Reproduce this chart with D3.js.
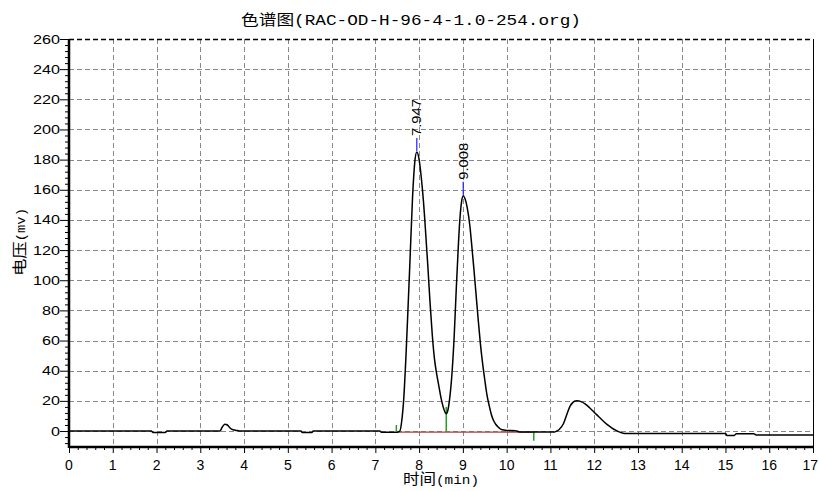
<!DOCTYPE html>
<html><head><meta charset="utf-8">
<script src="https://cdn.jsdelivr.net/npm/d3@7"></script>
<style>body{margin:0;background:#fff;}svg{display:block;}</style>
</head><body>
<script>
// ---- data ----
const times = [0, 1.88, 1.92, 2.2, 2.24, 3.45, 3.5, 3.56, 3.62, 3.68, 3.75, 3.85, 3.92, 5.3, 5.33, 5.55, 5.58, 7.1, 7.14, 7.5, 7.56, 7.6, 7.65, 7.7, 7.75, 7.79, 7.85, 7.9, 7.947, 8.0, 8.05, 8.1, 8.13, 8.2, 8.25, 8.3, 8.35, 8.4, 8.45, 8.5, 8.55, 8.6, 8.62, 8.65, 8.7, 8.74, 8.8, 8.85, 8.9, 8.93, 8.97, 9.008, 9.05, 9.1, 9.16, 9.2, 9.25, 9.3, 9.35, 9.4, 9.45, 9.5, 9.55, 9.6, 9.65, 9.7, 9.75, 9.8, 9.85, 9.9, 10.0, 10.2, 10.3, 11.1, 11.15, 11.2, 11.3, 11.4, 11.45, 11.5, 11.55, 11.6, 11.7, 11.8, 11.9, 12.0, 12.1, 12.2, 12.3, 12.4, 12.5, 12.6, 12.7, 15.0, 15.03, 15.2, 15.25, 15.65, 15.7, 17];
const signal = [0, 0, -1, -1, 0, 0, 2.5, 4.5, 4, 2, 0.8, 0.3, 0, 0, -1, -1, 0, 0, -0.8, -0.8, 0, 6, 22, 50, 84, 112, 155, 178, 185, 180, 168, 152, 140, 109, 85, 64, 48, 38, 30, 22, 16, 12, 11.5, 13, 22, 34, 62, 95, 125, 140, 152, 156, 154, 148, 136, 124, 108, 91, 74, 58, 45, 34, 24, 17, 11, 7, 4.5, 2.8, 1.5, 0.8, 0.4, 0.2, -0.6, -0.6, 0, 1, 5, 13, 16.5, 18.5, 19.7, 20, 19.5, 17.8, 15.3, 12.5, 9.6, 6.8, 4.2, 2.1, 0.4, -0.9, -1.6, -1.6, -2.9, -2.9, -1.8, -1.8, -2.6, -2.6];
const peakTimes = [7.947, 9.008];
const peakHeights = [185, 156];
const peakLabels = ["7.947", "9.008"];
const markerTimes = [7.48, 8.62, 10.62];
const markerFrom = [0, 16, 0];
const markerTo = [4, 0, -6.5];
const baselineStart = [7.48, -0.7];
const baselineEnd = [10.62, -0.7];
const xTicks = d3.range(0, 18, 1);
const yTicks = d3.range(0, 261, 20);
const titleText = "色谱图(RAC-OD-H-96-4-1.0-254.org)";
const xTitle = "时间(min)";
const yTitleMain = "电压";
const yTitleUnit = "(mv)";

// ---- layout ----
const W = 819, H = 491;
const svg = d3.select("body").append("svg").attr("width", W).attr("height", H);
const x = d3.scaleLinear().domain([0, 17]).range([69, 813]);
const y = d3.scaleLinear().domain([-10.6, 260]).range([447, 39]);
const x0 = x.range()[0], x1 = x.range()[1], yb = y.range()[0], yt = y.range()[1];

// grid
const grid = svg.append("g").attr("stroke", "#888").attr("stroke-width", 1).attr("stroke-dasharray", "5,3");
xTicks.filter(t => t > 0 && t < 17).forEach(t => {
  grid.append("line").attr("x1", Math.round(x(t)) + 0.5).attr("x2", Math.round(x(t)) + 0.5).attr("y1", yt).attr("y2", yb);
});
yTicks.filter(t => t < 260).forEach(t => {
  grid.append("line").attr("x1", x0).attr("x2", x1).attr("y1", Math.round(y(t)) + 0.5).attr("y2", Math.round(y(t)) + 0.5);
});

// frame: top dashed, right solid
svg.append("line").attr("x1", x0).attr("x2", x1).attr("y1", yt + 0.5).attr("y2", yt + 0.5)
  .attr("stroke", "#000").attr("stroke-width", 1.5).attr("stroke-dasharray", "5,3");
svg.append("line").attr("x1", x1 + 0.5).attr("x2", x1 + 0.5).attr("y1", yt).attr("y2", yb)
  .attr("stroke", "#000").attr("stroke-width", 1);

// axes
const yAxis = d3.axisLeft(y).tickValues(yTicks).tickSize(9).tickFormat("");
const yMinor = d3.axisLeft(y).tickValues(d3.range(-8, 260, 4).filter(v => v % 20 !== 0)).tickSize(4).tickFormat("");
const xAxis = d3.axisBottom(x).tickValues(xTicks).tickSize(6).tickFormat("");
const xMinor = d3.axisBottom(x).tickValues(d3.range(0, 17.01, 0.2).filter(v => Math.abs(v - Math.round(v)) > 0.01)).tickSize(3).tickFormat("");

[yAxis, yMinor].forEach(a => {
  const g = svg.append("g").attr("transform", `translate(${x0},0)`).call(a);
  g.select(".domain").remove();
  g.selectAll("line").attr("stroke", "#000");
});
[xAxis, xMinor].forEach(a => {
  const g = svg.append("g").attr("transform", `translate(0,${yb})`).call(a);
  g.select(".domain").remove();
  g.selectAll("line").attr("stroke", "#000");
});
svg.append("line").attr("x1", x0).attr("x2", x0).attr("y1", yt).attr("y2", yb + 1)
  .attr("stroke", "#000").attr("stroke-width", 2.5);
svg.append("line").attr("x1", x0).attr("x2", x1 + 1).attr("y1", yb).attr("y2", yb)
  .attr("stroke", "#000").attr("stroke-width", 2.5);

// tick labels
svg.append("g").selectAll("text").data(yTicks).join("text")
  .attr("x", 60).attr("y", d => y(d)).attr("dy", "0.36em")
  .attr("text-anchor", "end")
  .attr("font-family", "Liberation Sans, Arial, sans-serif").attr("font-size", 12.5)
  .attr("textLength", d => String(d).length * 9).attr("lengthAdjust", "spacingAndGlyphs")
  .attr("fill", "#000").text(d => d);
svg.append("g").selectAll("text").data(xTicks).join("text")
  .attr("x", d => d === 17 ? 818 : x(d)).attr("y", 470)
  .attr("text-anchor", d => d === 17 ? "end" : "middle")
  .attr("font-family", "Liberation Sans, Arial, sans-serif").attr("font-size", 14)
  .attr("fill", "#000").text(d => d);

// titles
svg.append("text").attr("x", 241).attr("y", 25)
  .attr("font-family", "Liberation Mono, Noto Sans CJK SC, monospace").attr("font-size", 15)
  .attr("textLength", 340).attr("lengthAdjust", "spacingAndGlyphs")
  .attr("fill", "#000").text(titleText);
const xt = svg.append("text").attr("x", 403).attr("y", 484)
  .attr("font-family", "Liberation Mono, Noto Sans CJK SC, monospace")
  .attr("textLength", 76).attr("lengthAdjust", "spacingAndGlyphs")
  .attr("fill", "#000");
xt.append("tspan").attr("font-size", 15).text(xTitle.slice(0, 2));
xt.append("tspan").attr("font-size", 13).text(xTitle.slice(2));
const yt2 = svg.append("text").attr("transform", "translate(25,276) rotate(-90)")
  .attr("font-family", "Liberation Mono, Noto Sans CJK SC, monospace").attr("fill", "#000")
  .attr("textLength", 68).attr("lengthAdjust", "spacingAndGlyphs");
yt2.append("tspan").attr("font-size", 15).text(yTitleMain);
yt2.append("tspan").attr("font-size", 12).text(yTitleUnit);

// baseline (red) and markers (green)
svg.append("line").attr("x1", x(baselineStart[0])).attr("x2", x(baselineEnd[0]))
  .attr("y1", y(baselineStart[1])).attr("y2", y(baselineEnd[1]))
  .attr("stroke", "#a84040").attr("stroke-width", 1.2);
markerTimes.forEach((t, i) => {
  svg.append("line").attr("x1", x(t)).attr("x2", x(t)).attr("y1", y(markerFrom[i])).attr("y2", y(markerTo[i]))
    .attr("stroke", "#22a022").attr("stroke-width", 1.5);
});

// trace
const pts = times.map((t, i) => [t, signal[i]]);
svg.append("path").datum(pts)
  .attr("d", d3.line().x(d => x(d[0])).y(d => y(d[1])).curve(d3.curveMonotoneX))
  .attr("fill", "none").attr("stroke", "#000").attr("stroke-width", 1.5);

// peak markers + labels
peakTimes.forEach((t, i) => {
  const px = x(t), py = y(peakHeights[i]);
  svg.append("line").attr("x1", px).attr("x2", px).attr("y1", py - 1).attr("y2", py - 14)
    .attr("stroke", "#2020ff").attr("stroke-width", 1.2);
  svg.append("text").attr("transform", `translate(${px},${py - 16}) rotate(-90)`)
    .attr("dy", "0.36em")
    .attr("font-family", "Liberation Sans, Arial, sans-serif").attr("font-size", 12)
    .attr("textLength", 37).attr("lengthAdjust", "spacingAndGlyphs")
    .attr("fill", "#000").text(peakLabels[i]);
});
</script>
</body></html>
